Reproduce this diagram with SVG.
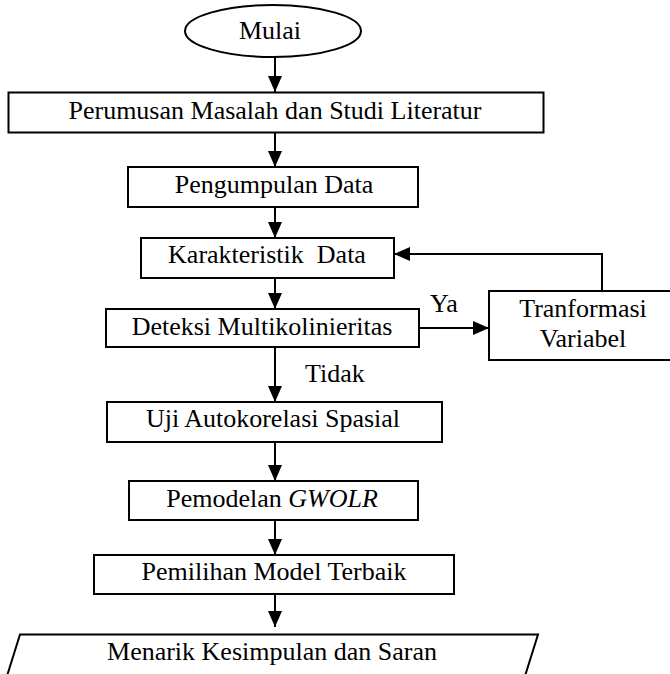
<svg xmlns="http://www.w3.org/2000/svg" width="670" height="674" viewBox="0 0 670 674">
<style>
.n{fill:#fff;stroke:#000;stroke-width:2}
text{font-family:"Liberation Serif","Times New Roman",Times,serif;font-size:26px;fill:#000}
.t{text-anchor:middle}
.c{fill:none;stroke:#000;stroke-width:2}
</style>
<defs>
<marker id="ah" markerUnits="userSpaceOnUse" markerWidth="16" markerHeight="14" refX="16" refY="7" orient="auto">
<path d="M0,0 L16,7 L0,14 z" fill="#000"/>
</marker>
</defs>
<rect width="670" height="674" fill="#fff"/>
<g id="connectors">
<path class="c" d="M275,57 V92" marker-end="url(#ah)"/>
<path class="c" d="M275,132 V167" marker-end="url(#ah)"/>
<path class="c" d="M275,207 V238" marker-end="url(#ah)"/>
<path class="c" d="M275,278 V309" marker-end="url(#ah)"/>
<path class="c" d="M419,328 H489" marker-end="url(#ah)"/>
<path class="c" d="M602,291 V254 H394" marker-end="url(#ah)"/>
<path class="c" d="M275,347 V402" marker-end="url(#ah)"/>
<path class="c" d="M275,442 V481" marker-end="url(#ah)"/>
<path class="c" d="M275,520 V555" marker-end="url(#ah)"/>
<path class="c" d="M275,594 V627" marker-end="url(#ah)"/>
<text x="430" y="312">Ya</text>
<text x="305" y="382">Tidak</text>
</g>
<g id="mulai">
<ellipse class="n" cx="273" cy="31" rx="88" ry="26"/>
<text class="t" x="270" y="39">Mulai</text>
</g>
<g id="perumusan">
<rect class="n" x="8.5" y="92.5" width="535" height="40"/>
<text class="t" x="275" y="119">Perumusan Masalah dan Studi Literatur</text>
</g>
<g id="pengumpulan">
<rect class="n" x="128" y="167" width="290" height="40"/>
<text class="t" x="274" y="193">Pengumpulan Data</text>
</g>
<g id="karakteristik">
<rect class="n" x="141" y="238" width="253" height="40"/>
<text class="t" x="267" y="263" xml:space="preserve">Karakteristik  Data</text>
</g>
<g id="deteksi">
<rect class="n" x="106" y="309" width="313" height="38"/>
<text class="t" x="262" y="335">Deteksi Multikolinieritas</text>
</g>
<g id="transformasi">
<rect class="n" x="489" y="291" width="186" height="69"/>
<text class="t" x="583" y="317">Tranformasi</text>
<text class="t" x="583" y="347">Variabel</text>
</g>
<g id="uji">
<rect class="n" x="107" y="402" width="335" height="40"/>
<text class="t" x="273" y="427">Uji Autokorelasi Spasial</text>
</g>
<g id="pemodelan">
<rect class="n" x="129" y="481" width="289" height="39"/>
<text class="t" x="272" y="507">Pemodelan <tspan font-style="italic">GWOLR</tspan></text>
</g>
<g id="pemilihan">
<rect class="n" x="94" y="555" width="360" height="39"/>
<text class="t" x="274" y="580">Pemilihan Model Terbaik</text>
</g>
<g id="kesimpulan">
<path class="n" d="M20,634.5 H538 L525,676 H7 Z"/>
<text class="t" x="272" y="660">Menarik Kesimpulan dan Saran</text>
</g>
</svg>
